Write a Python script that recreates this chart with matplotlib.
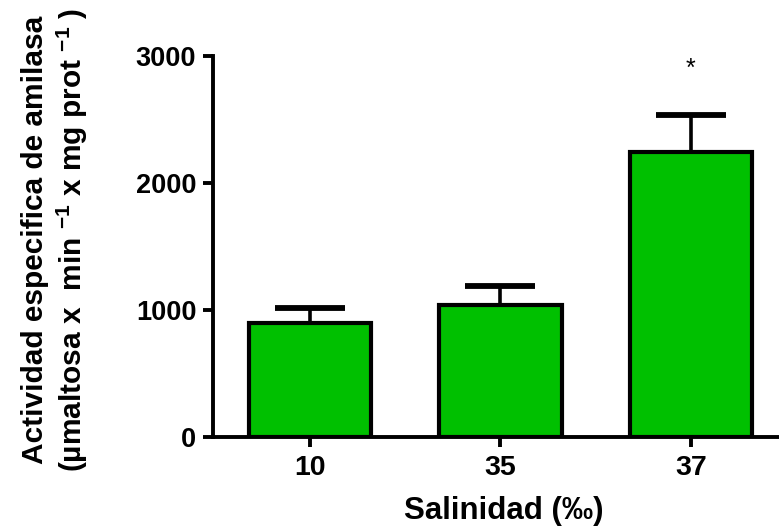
import matplotlib.pyplot as plt

plt.rcParams['font.family'] = ['Liberation Sans', 'DejaVu Sans']
plt.rcParams['font.weight'] = 'bold'
plt.rcParams['mathtext.fontset'] = 'custom'
plt.rcParams['mathtext.rm'] = 'Liberation Sans:bold'
plt.rcParams['mathtext.bf'] = 'Liberation Sans:bold'
plt.rcParams['mathtext.default'] = 'bf'

salinidad = ['10', '35', '37']
actividad = [900, 1040, 2245]
error = [115, 150, 290]
significativo = ['', '', '*']

fig = plt.figure(figsize=(7.79, 5.28), dpi=100)
ax = fig.add_axes([0.2734, 0.1723, 0.7266, 0.7222])

x = list(range(len(salinidad)))
ax.bar(x, actividad, width=0.645, color='#00C000', edgecolor='black', linewidth=3, zorder=2)

# error bars only upward: drop the lower cap line
eb = ax.errorbar(x, actividad, yerr=[[0] * len(error), error], fmt='none',
                 ecolor='black', elinewidth=2.6, capsize=25, capthick=4.2, zorder=3)
eb.lines[1][0].remove()

for i, s in enumerate(significativo):
    if s:
        ax.text(i, 2900, s, ha='center', va='center', fontsize=18, fontweight='normal')

ax.set_xlim(-0.509, 2.462)
ax.set_ylim(0, 3000)
ax.set_yticks([0, 1000, 2000, 3000])
ax.set_xticks(x)
ax.set_xticklabels(salinidad)

for side in ['top', 'right']:
    ax.spines[side].set_visible(False)
for side in ['left', 'bottom']:
    ax.spines[side].set_linewidth(2.8)

ax.tick_params(axis='both', width=2.8, length=7)
ax.tick_params(axis='x', pad=6, labelsize=20.5)
ax.tick_params(axis='y', pad=5, labelsize=19.5)

ax.set_xlabel('Salinidad (‰)', fontsize=22.5, fontweight='bold')
ax.xaxis.set_label_coords(0.513, -0.155)
ax.set_ylabel('Actividad especifica de amilasa\n'
              r'(µmaltosa x  min $^{-1}$ x mg prot $^{-1}$ )',
              fontsize=21.5, fontweight='bold', linespacing=1.2)
ax.yaxis.set_label_coords(-0.218, 0.517)

fig.savefig('out.png', dpi=100)
